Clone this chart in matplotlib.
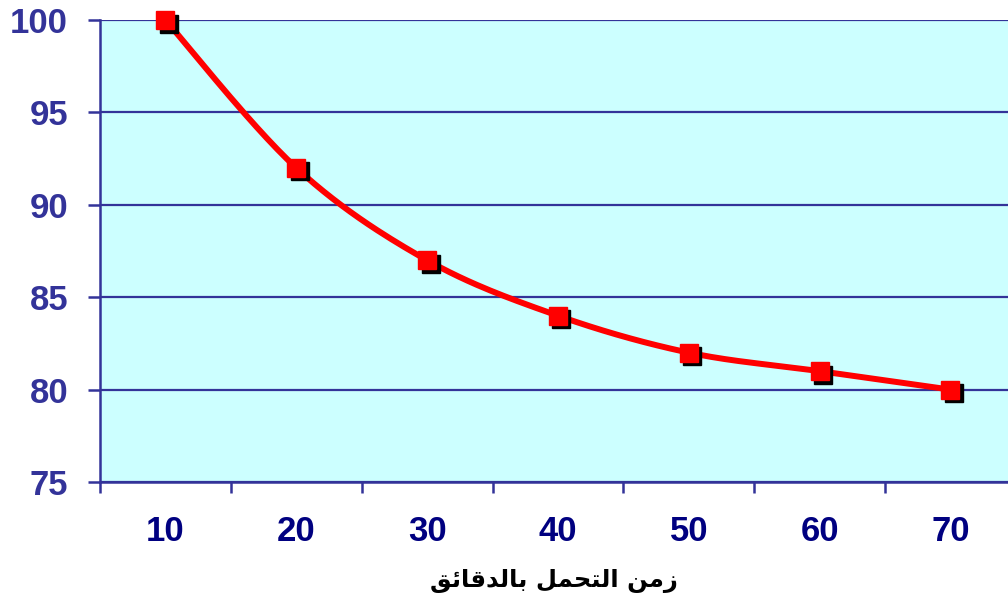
import numpy as np
import matplotlib
matplotlib.use("Agg")
import matplotlib.pyplot as plt
from matplotlib.transforms import offset_copy

# Endurance time (minutes) and measured values
categories = ["10", "20", "30", "40", "50", "60", "70"]
values = [100, 92, 87, 84, 82, 81, 80]
y_ticks = [75, 80, 85, 90, 95, 100]
# "زمن التحمل بالدقائق" written in shaped presentation forms, visual order
x_label = ("\uFED6\uFE8B\uFE8E\uFED7\uFEAA\uFEDF\uFE8E\uFE91 "
           "\uFEDE\uFEE4\uFEA4\uFE98\uFEDF\uFE8D "
           "\uFEE6\uFEE3\uFEAF")


def smooth_curve(x, y, steps=30):
    """Catmull-Rom style Bezier smoothing through every point."""
    x = np.asarray(x, float)
    y = np.asarray(y, float)
    n = len(x)
    px = np.concatenate([[x[0]], x, [x[-1]]])
    py = np.concatenate([[y[0]], y, [y[-1]]])
    xs, ys = [], []
    t = np.linspace(0, 1, steps)
    for i in range(n - 1):
        p0 = np.array([px[i], py[i]])
        p1 = np.array([px[i + 1], py[i + 1]])
        p2 = np.array([px[i + 2], py[i + 2]])
        p3 = np.array([px[i + 3], py[i + 3]])
        c1 = p1 + (p2 - p0) / 6.0
        c2 = p2 - (p3 - p1) / 6.0
        b = ((1 - t) ** 3)[:, None] * p1 + (3 * (1 - t) ** 2 * t)[:, None] * c1 \
            + (3 * (1 - t) * t ** 2)[:, None] * c2 + (t ** 3)[:, None] * p2
        xs.extend(b[:, 0])
        ys.extend(b[:, 1])
    return np.array(xs), np.array(ys)


fig = plt.figure(figsize=(10.08, 6.01), dpi=100)
ax = fig.add_axes([100 / 1008, (601 - 482) / 601, 1 - 100 / 1008, 462 / 601])
ax.set_facecolor("#CCFFFF")

navy = "#333399"
x = np.arange(len(categories))

ax.set_xlim(-0.5, 6.44)
ax.set_ylim(75, 100)

# horizontal gridlines
ax.set_yticks(y_ticks)
ax.yaxis.grid(True, color=navy, linewidth=1.6)
ax.set_axisbelow(True)

for side in ["top", "right"]:
    ax.spines[side].set_visible(False)
for side in ["left", "bottom"]:
    ax.spines[side].set_color(navy)
    ax.spines[side].set_linewidth(1.8)

# smoothed line
sx, sy = smooth_curve(x, values)
ax.plot(sx, sy, color="#FF0000", linewidth=4.3, solid_capstyle="round",
        zorder=3, clip_on=False)

# square markers with a dark drop shadow
shadow = offset_copy(ax.transData, fig=fig, x=3.5, y=-3.5, units="dots")
ax.plot(x, values, linestyle="none", marker="s", markersize=13,
        color="black", transform=shadow, zorder=4, clip_on=False)
ax.plot(x, values, linestyle="none", marker="s", markersize=13,
        color="#FF0000", markeredgecolor="#FF0000", zorder=5, clip_on=False)

# category labels centred, tick marks between categories
ax.set_xticks(x)
ax.set_xticklabels(categories, fontsize=25, fontweight="bold",
                   color="#000080", family="Liberation Sans")
ax.set_xticks(np.arange(len(categories)) - 0.5, minor=True)
ax.tick_params(axis="x", which="major", length=0, pad=24)
ax.tick_params(axis="x", which="minor", length=8, width=1.8, color=navy)

ax.set_yticklabels([str(v) for v in y_ticks], fontsize=25, fontweight="bold",
                   color=navy, family="Liberation Sans")
ax.tick_params(axis="y", length=9, width=1.8, color=navy, pad=14)

ax.set_xlabel(x_label, fontsize=17.5, fontweight="bold", color="black",
              family=["DejaVu Sans"], labelpad=15)

fig.savefig("out.png", dpi=100)
